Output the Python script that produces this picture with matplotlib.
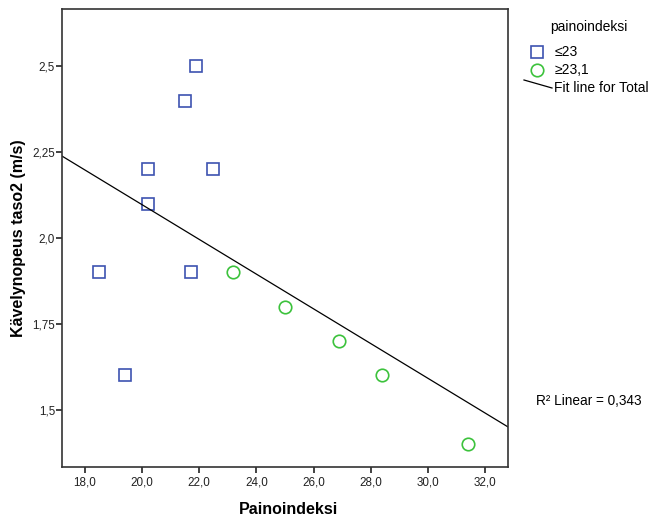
import numpy as np
import matplotlib
matplotlib.use("Agg")
import matplotlib.pyplot as plt
from matplotlib.lines import Line2D

plt.rcParams['font.family'] = ['Liberation Sans', 'DejaVu Sans']

# Data
low_x = [18.5, 19.4, 21.7, 20.2, 20.2, 21.5, 21.9, 22.5]
low_y = [1.9, 1.6, 1.9, 2.2, 2.1, 2.4, 2.5, 2.2]
high_x = [23.2, 25.0, 26.9, 28.4, 31.4]
high_y = [1.9, 1.8, 1.7, 1.6, 1.4]
group_labels = ["\u226423", "\u226523,1"]
legend_title = "painoindeksi"
fit_label = "Fit line for Total"
r2_text = "R\u00b2 Linear = 0,343"
x_ticks = [18.0, 20.0, 22.0, 24.0, 26.0, 28.0, 30.0, 32.0]
x_tick_labels = ["18,0", "20,0", "22,0", "24,0", "26,0", "28,0", "30,0", "32,0"]
y_ticks = [1.5, 1.75, 2.0, 2.25, 2.5]
y_tick_labels = ["1,5", "1,75", "2,0", "2,25", "2,5"]
x_label = "Painoindeksi"
y_label = "K\u00e4velynopeus taso2 (m/s)"

blue = "#3d53b0"
green = "#3cc23c"

W, H = 653, 520
fig = plt.figure(figsize=(W / 100, H / 100), dpi=100)
L, R, T, B = 62, 508, 9, 467
ax = fig.add_axes([L / W, 1 - B / H, (R - L) / W, (B - T) / H])

ax.plot(low_x, low_y, linestyle='none', marker='s', markersize=8.2,
        markerfacecolor='none', markeredgecolor=blue, markeredgewidth=1.2)
ax.plot(high_x, high_y, linestyle='none', marker='o', markersize=9,
        markerfacecolor='none', markeredgecolor=green, markeredgewidth=1.2)

all_x = np.array(low_x + high_x)
all_y = np.array(low_y + high_y)
slope, intercept = np.polyfit(all_x, all_y, 1)
xmin, xmax = 17.206, 32.795
xs = np.array([xmin, xmax])
ax.plot(xs, slope * xs + intercept, color='black', linewidth=0.9)

ax.set_xlim(xmin, xmax)
ax.set_ylim(1.3335, 2.6665)
ax.set_xticks(x_ticks)
ax.set_xticklabels(x_tick_labels)
ax.set_yticks(y_ticks)
ax.set_yticklabels(y_tick_labels)
ax.tick_params(direction='out', length=4.5, width=1.2, labelsize=8.4, colors='#222222')
ax.tick_params(axis='y', pad=0.5)
ax.tick_params(axis='x', pad=2.5)
for s in ax.spines.values():
    s.set_linewidth(1.2)
    s.set_color('#333333')

ax.set_xlabel(x_label, fontsize=11.5, fontweight='bold')
ax.set_ylabel(y_label, fontsize=11.5, fontweight='bold')
ax.xaxis.set_label_coords(((L + R) / 2 - L + 4) / (R - L), (B - 510) / (B - T))
ax.xaxis.label.set_verticalalignment('center')
ax.yaxis.set_label_coords((18.5 - L) / (R - L), 0.5)
ax.yaxis.label.set_verticalalignment('center')

# Legend (drawn in figure pixel coords)
def fx(px):
    return px / W
def fy(py):
    return 1 - py / H

fs = 10
fig.text(fx(550), fy(27), legend_title, fontsize=fs, va='center', ha='left')
fig.add_artist(Line2D([fx(537)], [fy(52)], marker='s', markersize=8.2, markerfacecolor='none',
                      markeredgecolor=blue, markeredgewidth=1.2, transform=fig.transFigure))
fig.text(fx(555), fy(52), group_labels[0], fontsize=fs, va='center', ha='left')
fig.add_artist(Line2D([fx(537)], [fy(69.5)], marker='o', markersize=9, markerfacecolor='none',
                      markeredgecolor=green, markeredgewidth=1.2, transform=fig.transFigure))
fig.text(fx(555), fy(69.5), group_labels[1], fontsize=fs, va='center', ha='left')
fig.add_artist(Line2D([fx(524), fx(552)], [fy(80), fy(88)], color='black', linewidth=0.9,
                      transform=fig.transFigure))
fig.text(fx(554), fy(87.5), fit_label, fontsize=fs, va='center', ha='left')

fig.text(fx(536), fy(401), r2_text, fontsize=9.8, va='center', ha='left')

fig.savefig("out.png", dpi=100)
